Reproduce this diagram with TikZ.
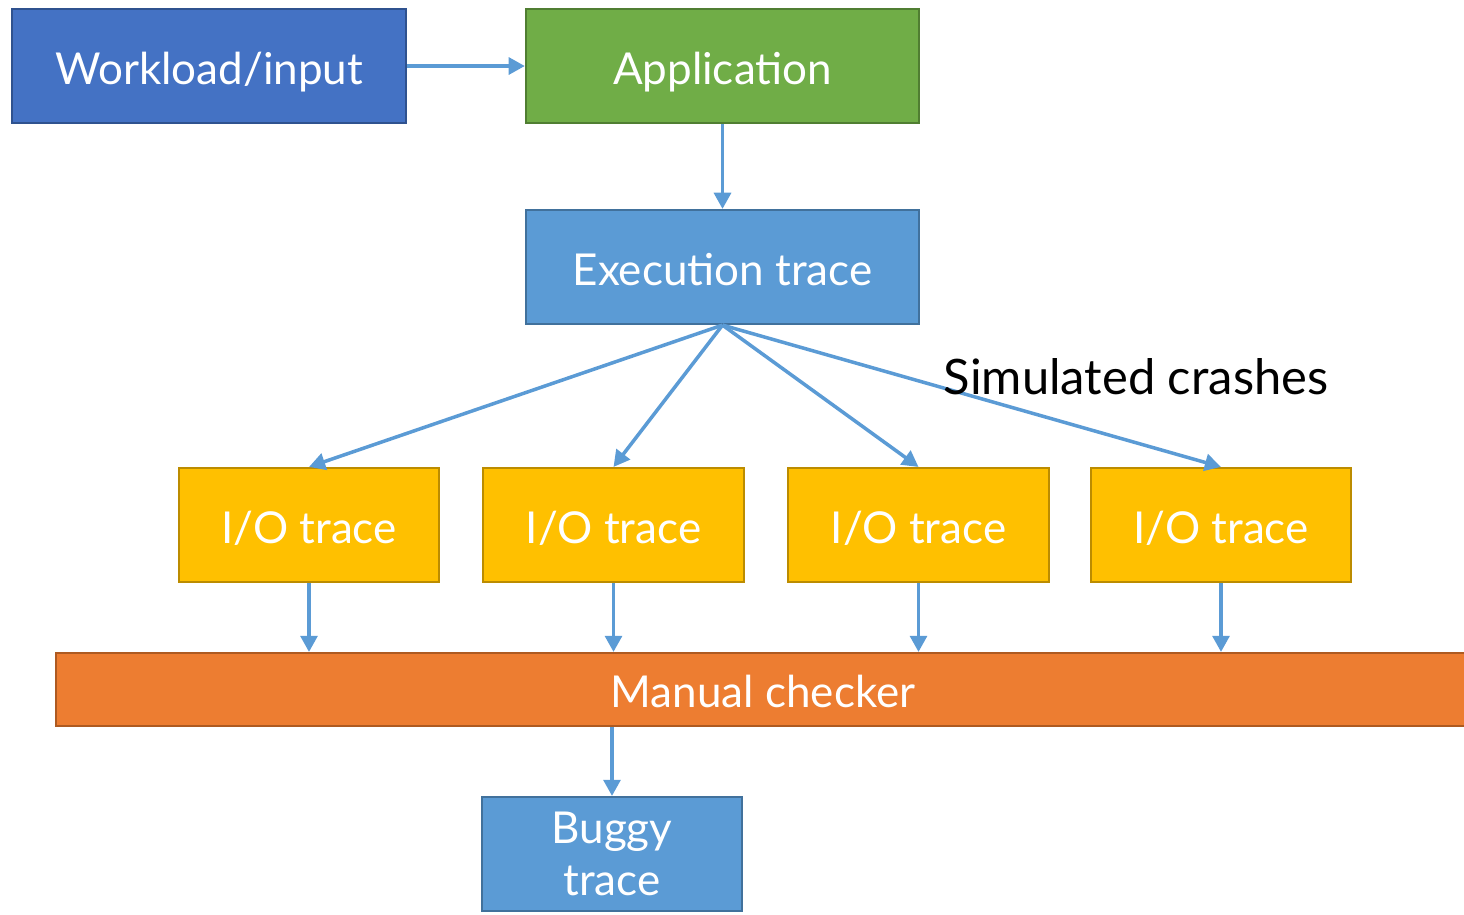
\documentclass[tikz,border=0pt]{standalone}
\usepackage{fontspec}
\setmainfont{Lato}
\usetikzlibrary{arrows.meta,positioning}
\definecolor{wlblue}{HTML}{4472C4}
\definecolor{wlline}{HTML}{2F528F}
\definecolor{appgreen}{HTML}{70AD47}
\definecolor{appline}{HTML}{507E32}
\definecolor{trblue}{HTML}{5B9BD5}
\definecolor{trline}{HTML}{41719C}
\definecolor{iogold}{HTML}{FFC000}
\definecolor{ioline}{HTML}{BC8C00}
\definecolor{chkorange}{HTML}{ED7D31}
\definecolor{chkline}{HTML}{AE5A21}

\begin{document}
\begin{tikzpicture}[x=0.01cm,y=-0.01cm,
        box/.style={draw,line width=0.6pt,inner sep=0pt,text=white,
            font=\fontsize{12.5}{15}\selectfont,minimum height=1.14cm},
        oneline/.style={text height=12pt,text depth=1.6pt},
        arr/.style={-{Triangle[length=4.6pt,width=4.8pt]},trblue,line width=1pt}]
        \useasboundingbox (0,0) rectangle (1464,914);
        \node[box,oneline,fill=wlblue,draw=wlline,minimum width=3.94cm] (work) at (209,66) {Workload/input};
        \node[box,oneline,fill=appgreen,draw=appline,minimum width=3.93cm] (app) at (722.5,66) {Application};
        \node[box,oneline,fill=trblue,draw=trline,minimum width=3.93cm] (exec) at (722.5,267) {Execution trace};
        \node[box,oneline,fill=iogold,draw=ioline,minimum width=2.6cm] (io1) at (309,525) {I/O trace};
        \node[box,oneline,fill=iogold,draw=ioline,minimum width=2.6cm] (io2) at (613.5,525) {I/O trace};
        \node[box,oneline,fill=iogold,draw=ioline,minimum width=2.6cm] (io3) at (918.5,525) {I/O trace};
        \node[box,oneline,fill=iogold,draw=ioline,minimum width=2.6cm] (io4) at (1221,525) {I/O trace};
        \node[box,oneline,fill=chkorange,draw=chkline,minimum width=14.14cm,minimum height=0.73cm] (chk) at (763,689.5) {Manual checker};
        \node[box,fill=trblue,draw=trline,minimum width=2.6cm,align=center] (bug) at (612,854)
            {\raisebox{-2pt}{Buggy}\\\raisebox{-2pt}{trace}};
        % flow
        \draw[arr] (work) -- (app);
        \draw[arr] (app) -- (exec);
        \draw[arr] (exec.south) -- (io1.north);
        \draw[arr] (exec.south) -- (io2.north);
        \draw[arr] (exec.south) -- (io3.north);
        \draw[arr] (exec.south) -- (io4.north);
        \foreach \n in {io1,io2,io3,io4}
            \draw[arr] (\n.south) -- (\n.south |- chk.north);
        \draw[arr] (bug.north |- chk.south) -- (bug.north);
        \node[anchor=west,inner sep=0pt,font=\fontsize{13.9}{17}\selectfont] (crash) at (943,377) {Simulated crashes};
\end{tikzpicture}
\end{document}
